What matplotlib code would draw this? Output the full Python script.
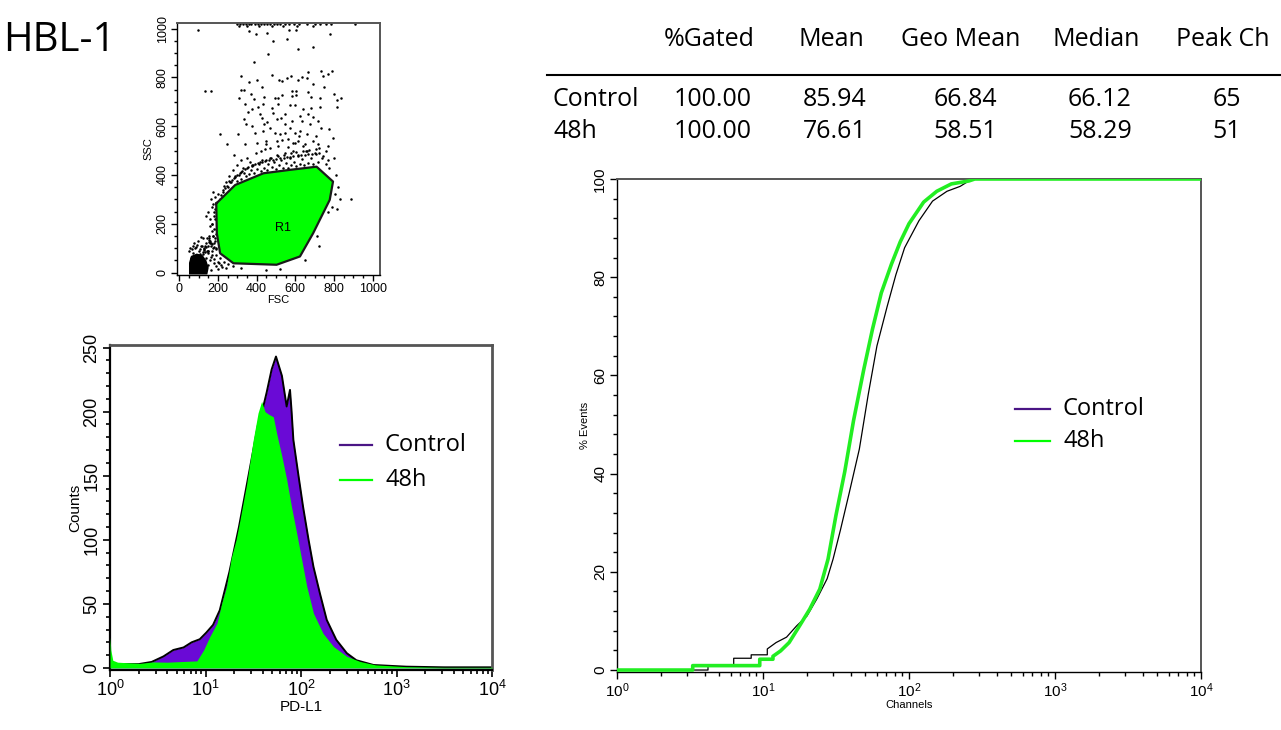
"""HBL-1 PD-L1 flow cytometry panel: FSC/SSC gate, PD-L1 histogram overlay,
cumulative distribution overlay and a stats table."""
import matplotlib
matplotlib.use("Agg")
import matplotlib.pyplot as plt
from matplotlib.lines import Line2D
from matplotlib.ticker import MultipleLocator, LogLocator, NullFormatter

W, H = 1281, 730

# ---- stats table ----
table_cols = ["%Gated", "Mean", "Geo Mean", "Median", "Peak Ch"]
table_rows = ["Control", "48h"]
control_stats = ["100.00", "85.94", "66.84", "66.12", "65"]
h48_stats = ["100.00", "76.61", "58.51", "58.29", "51"]

# ---- FSC / SSC dot plot ----
gate_fsc = [191, 289, 435, 572, 710, 795, 778, 692, 624, 503, 280, 211, 194, 191]
gate_ssc = [283, 359, 407, 421, 434, 373, 298, 161, 66, 32, 38, 79, 161, 283]
debris_fsc = [50, 100, 145, 152, 140, 120, 90, 60, 50]
debris_ssc = [-8, -8, -8, 20, 50, 72, 78, 68, 40]
ev_fsc = [
    96, 361, 397, 452, 567, 601, 778, 486, 555, 615, 689, 457, 388, 318, 362, 400,
    477, 515, 533, 558, 577, 612, 636, 658, 667, 735, 744, 770, 790, 692, 747, 131,
    165, 318, 335, 426, 371, 311, 387, 440, 495, 512, 533, 581, 601, 584, 601, 667,
    680, 730, 801, 838, 818, 813, 340, 431, 375, 405, 477, 512, 572, 598, 641, 680,
    727, 354, 417, 486, 546, 624, 667, 692, 335, 426, 455, 503, 526, 581, 632, 675,
    718, 344, 378, 440, 469, 546, 572, 735, 773, 211, 306, 392, 435, 495, 520, 546,
    598, 624, 658, 709, 795, 246, 340, 400, 446, 503, 564, 589, 615, 649, 718, 768,
    297, 315, 330, 345, 360, 372, 390, 405, 420, 440, 455, 470, 490, 505, 520, 545,
    565, 595, 620, 660, 700, 730, 760, 785, 907, 308, 352, 412, 478, 536, 608, 690,
    225, 235, 250, 240, 262, 275, 255, 290, 300, 310, 320, 335, 345, 330, 360, 370,
    385, 380, 400, 410, 420, 430, 440, 455, 460, 470, 480, 490, 500, 505, 515, 525,
    535, 545, 550, 560, 570, 580, 590, 595, 605, 615, 625, 635, 645, 655, 665, 680,
    690, 700, 715, 725, 740, 760, 775, 350, 365, 395, 420, 445, 470, 300, 280, 320,
    510, 560, 600, 640, 690, 285, 450, 530, 620, 660, 760, 800, 810, 820, 805, 830,
    815, 790, 770, 890, 210, 200, 190, 180, 185, 170, 190, 175, 160, 180, 150, 190,
    170, 210, 230, 250, 280, 320, 450, 520, 650, 720, 710, 140, 120,
    215, 228, 246, 268, 283, 296, 312, 326, 342, 356, 374, 392, 408, 426, 444, 462,
    486, 498, 522, 540, 556, 574, 588, 612, 630, 648, 668, 686, 708, 722, 745, 768,
    232, 258, 288, 318, 348, 378, 416, 448, 476, 508, 542, 576, 604, 638, 672, 705,
    165, 175, 185, 195, 160, 170, 180, 190, 155, 165, 178, 188, 150, 172, 183, 195,
    168, 181, 158, 176, 186, 163, 193, 171, 146, 138, 152, 129, 143, 118, 134, 156,
    60, 70, 80, 90, 100, 110, 120, 130, 140, 150, 160, 170, 180, 190, 200, 150, 165,
    55, 75, 95, 115, 135, 145, 160, 175, 190, 205, 215, 105, 125, 85, 65,
    48, 66, 88, 108, 128, 146, 162, 178, 198, 72, 94, 112, 136, 154, 170, 186, 222, 240,
]
ev_ssc = [
    996, 989, 976, 982, 996, 996, 976, 948, 958, 918, 925, 896, 862, 805, 780, 791,
    811, 791, 784, 798, 805, 791, 801, 798, 821, 825, 805, 814, 825, 771, 762, 743,
    743, 750, 750, 762, 733, 716, 712, 719, 716, 716, 726, 743, 743, 723, 727, 739,
    720, 714, 733, 714, 707, 678, 692, 689, 672, 678, 675, 689, 686, 686, 672, 675,
    678, 657, 648, 655, 648, 641, 648, 637, 628, 634, 617, 630, 634, 621, 621, 607,
    621, 607, 600, 607, 593, 607, 593, 593, 587, 566, 566, 573, 580, 573, 566, 573,
    573, 580, 566, 559, 552, 525, 525, 532, 525, 539, 546, 532, 539, 525, 525, 518,
    1018, 1018, 1018, 1018, 1018, 1018, 1018, 1018, 1018, 1018, 1018, 1018, 1018, 1018, 1018, 1018,
    1018, 1018, 1018, 1018, 1018, 1018, 1018, 1018, 1018, 1010, 1012, 1010, 1012, 1010, 1012, 1010,
    330, 345, 350, 370, 372, 380, 395, 390, 375, 400, 385, 410, 395, 430, 405, 420,
    410, 440, 425, 445, 415, 460, 430, 420, 445, 470, 432, 455, 425, 480, 440, 460,
    430, 490, 450, 430, 470, 440, 500, 455, 435, 480, 445, 465, 440, 500, 450, 470,
    445, 490, 455, 510, 470, 445, 430, 470, 455, 490, 500, 505, 510, 440, 420, 460,
    520, 515, 530, 520, 540, 480, 540, 545, 560, 500, 500, 470, 400, 350, 320, 300,
    260, 270, 250, 300, 300, 320, 280, 250, 220, 200, 180, 150, 130, 120, 110, 100,
    90, 60, 45, 35, 25, 20, 12, 15, 50, 110, 150, 230, 140,
    318, 338, 356, 372, 386, 398, 408, 418, 426, 432, 438, 444, 448, 452, 456, 460,
    462, 466, 468, 470, 472, 474, 476, 478, 480, 482, 484, 486, 488, 490, 476, 462,
    355, 375, 395, 412, 428, 440, 452, 462, 470, 476, 482, 490, 494, 498, 502, 506,
    300, 280, 260, 240, 220, 200, 180, 160, 140, 120, 105, 95, 250, 330, 310, 290,
    270, 230, 190, 150, 130, 110, 210, 170, 90, 120, 150, 100, 140, 110, 85, 125,
    60, 80, 100, 70, 90, 110, 75, 95, 60, 80, 50, 70, 40, 25, 15, 30, 10,
    100, 120, 130, 60, 110, 90, 120, 100, 70, 40, 30, 75, 85, 30, 20,
    90, 95, 105, 98, 92, 88, 62, 55, 45, 110, 115, 145, 105, 135, 118, 140, 22, 18,
]

# ---- PD-L1 histogram (channel, counts) ----
hist_48h_ch = [1.0, 1.02, 1.07, 1.2, 1.58, 2.06, 2.82, 3.98, 5.62, 8.13, 9.55, 11.1,
               13.2, 14.8, 16.6, 18.6, 20.9, 22.9, 26.9, 31.6, 35.5, 38.7, 42.0, 45.7,
               51.3, 55.6, 63.1, 70.8, 79.4, 90.2, 102, 115, 135, 170, 219, 302, 417,
               603, 1259, 3162, 10000]
hist_48h_ct = [24, 14, 6, 4.5, 4, 3.6, 4.7, 4.5, 5, 5.5, 14, 24.5,
               35, 50.5, 63.5, 86, 100, 115, 143, 178, 199, 208, 200, 198,
               196, 183, 165, 147, 126, 105, 84, 63.5, 42.7, 27, 16.7, 9, 5,
               2.4, 1, 0.5, 0.5]
hist_ctrl_ch = [1.0, 2.0, 2.73, 3.63, 4.6, 5.89, 7.16, 8.71, 10.2, 12.0, 14.1, 17.8,
                22.4, 28.2, 35.5, 40.3, 43.7, 49.3, 54.7, 63.1, 70.8, 76.7, 79.4, 83.2,
                93.3, 105, 120, 135, 158, 186, 234, 302, 380, 575, 1259, 3162, 10000]
hist_ctrl_ct = [3, 3, 4.7, 9, 14, 16, 20, 22.4, 27.6, 33.6, 45, 75,
                110, 150, 190, 204, 215, 233, 243, 228, 204, 217, 202, 178,
                152, 126, 100, 79, 58, 37.5, 22, 11.5, 6, 2.3, 1, 0.5, 0.5]

# ---- cumulative % events (channel, %) ----
cum_48h_ch = [1, 3.3, 3.3, 9.5, 9.5, 11.7, 11.7, 13.2, 15.1, 17.8, 20.9, 24.5, 27.9,
              31.6, 36.3, 41.7, 49.0, 56.2, 64.6, 75.9, 87.1, 100, 126, 155, 195,
              257, 282, 10000]
cum_48h_pct = [0, 0, 0.9, 0.9, 2.2, 2.2, 2.8, 3.9, 5.6, 9, 12.4, 16.5, 22.6,
               31.5, 40.4, 50.8, 61.2, 69.4, 76.8, 82.7, 87.2, 90.9, 95.3, 97.5, 99,
               99.6, 100, 100]
cum_ctrl_ch = [1, 4.2, 4.2, 6.3, 6.3, 8.3, 8.3, 10.7, 10.7, 12.3, 14.5, 17, 20, 23.4,
               27.5, 30.2, 33.9, 38.9, 45.7, 52.5, 60.3, 70.8, 81.3, 93.3, 117, 145,
               182, 224, 257, 282, 10000]
cum_ctrl_pct = [0, 0, 1.0, 1.0, 2.4, 2.4, 3.1, 3.1, 4.3, 5.6, 6.7, 9, 11, 14.5,
                18.6, 22.6, 28.5, 36, 45, 56, 66, 74, 80.5, 86, 91.5, 95.5,
                97.5, 98.5, 99.6, 100, 100]

GREEN = "#00ff00"
PURPLE = "#6a0ad6"
LEGEND_PURPLE = "#4a1585"
TEXT_FONT = ["Open Sans", "DejaVu Sans"]
AXIS_FONT = ["Liberation Sans", "DejaVu Sans"]

plt.rcParams["font.family"] = AXIS_FONT


def px_axes(fig, left, top, right, bottom):
    return fig.add_axes([left / W, 1 - bottom / H, (right - left) / W, (bottom - top) / H])


def fig_xy(x, y):
    return x / W, 1 - y / H


def style_box(ax, lw=1.3):
    for side in ["left", "bottom"]:
        ax.spines[side].set_linewidth(lw)
        ax.spines[side].set_color("black")
    for side in ["top", "right"]:
        ax.spines[side].set_linewidth(lw + 0.4)
        ax.spines[side].set_color("#555555")


def vertical_yticklabels(ax):
    for lab in ax.get_yticklabels():
        lab.set_rotation(90)
        lab.set_va("center")


fig = plt.figure(figsize=(W / 100, H / 100), dpi=100)

fig.text(*fig_xy(3, 41), "HBL-1", fontsize=29, family=TEXT_FONT, va="center", ha="left")

# ---- dot plot ----
ax1 = px_axes(fig, 177, 23, 380, 275)
ax1.plot(ev_fsc, ev_ssc, "o", color="black", markersize=1.8, markeredgewidth=0, zorder=1)
ax1.fill(debris_fsc, debris_ssc, color="black", lw=0, zorder=1)
ax1.fill(gate_fsc, gate_ssc, color=GREEN, lw=0, zorder=2)
ax1.plot(gate_fsc, gate_ssc, color="#1a1a1a", lw=1.6, zorder=3)
ax1.text(538, 182, "R1", fontsize=9, ha="center", va="center", zorder=4)
ax1.set_xlim(-12, 1038)
ax1.set_ylim(-10, 1023)
ax1.set_xticks(range(0, 1001, 200))
ax1.set_yticks(range(0, 1001, 200))
ax1.xaxis.set_minor_locator(MultipleLocator(50))
ax1.yaxis.set_minor_locator(MultipleLocator(50))
ax1.tick_params(which="major", length=4, width=1, labelsize=9, pad=2)
ax1.tick_params(which="minor", length=2.5, width=1)
vertical_yticklabels(ax1)
ax1.set_xlabel("FSC", fontsize=8, labelpad=0)
ax1.set_ylabel("SSC", fontsize=8, labelpad=2)
style_box(ax1, lw=1.0)

# ---- PD-L1 histogram ----
ax2 = px_axes(fig, 110, 345, 492, 670)
ax2.fill_between(hist_ctrl_ch, 0, hist_ctrl_ct, color=PURPLE, lw=0, zorder=1)
ax2.plot(hist_ctrl_ch, hist_ctrl_ct, color="black", lw=1.4, zorder=2)
ax2.fill_between(hist_48h_ch, 0, hist_48h_ct, color=GREEN, lw=0, zorder=3)
ax2.set_xscale("log")
ax2.set_xlim(1, 1e4)
ax2.set_ylim(-1.6, 252)
ax2.set_yticks(range(0, 251, 50))
ax2.yaxis.set_minor_locator(MultipleLocator(10))
ax2.xaxis.set_minor_locator(LogLocator(base=10, subs=range(2, 10)))
ax2.xaxis.set_minor_formatter(NullFormatter())
ax2.tick_params(which="major", length=5, width=1.2, labelsize=13, pad=2)
ax2.tick_params(which="minor", length=3, width=1.2)
vertical_yticklabels(ax2)
ax2.set_xlabel("PD-L1", fontsize=11, labelpad=0)
ax2.set_ylabel("Counts", fontsize=11, labelpad=1)
style_box(ax2, lw=1.6)

# ---- cumulative plot ----
ax3 = px_axes(fig, 617, 179, 1201, 672)
ax3.plot(cum_ctrl_ch, cum_ctrl_pct, color="black", lw=0.9, zorder=2)
ax3.plot(cum_48h_ch, cum_48h_pct, color="#22ee22", lw=2.6, zorder=3)
ax3.set_xscale("log")
ax3.set_xlim(1, 1e4)
ax3.set_ylim(-0.4, 100)
ax3.set_yticks(range(0, 101, 20))
ax3.yaxis.set_minor_locator(MultipleLocator(4))
ax3.xaxis.set_minor_locator(LogLocator(base=10, subs=range(2, 10)))
ax3.xaxis.set_minor_formatter(NullFormatter())
ax3.tick_params(which="major", length=5, width=1, labelsize=11, pad=2)
ax3.tick_params(which="minor", length=3, width=1)
vertical_yticklabels(ax3)
ax3.set_xlabel("Channels", fontsize=8, labelpad=0)
ax3.set_ylabel("% Events", fontsize=8, labelpad=2)
style_box(ax3, lw=1.0)

# ---- legends (drawn in figure pixels) ----
for (x0, x1, xt, y0, dy) in [(340, 372, 385, 445, 35), (1015, 1050, 1063, 409, 32)]:
    for i, (lab, col) in enumerate(zip(table_rows, [LEGEND_PURPLE, GREEN])):
        yy = y0 + i * dy
        fig.add_artist(Line2D([x0 / W, x1 / W], [1 - yy / H, 1 - yy / H], color=col, lw=1.6))
        fig.text(*fig_xy(xt, yy), lab, fontsize=17, family=TEXT_FONT, va="center", ha="left")

# ---- stats table ----
col_x = [709, 831, 961, 1096, 1223]
for cx, name in zip(col_x, table_cols):
    fig.text(*fig_xy(cx, 40), name, fontsize=18, family=TEXT_FONT, ha="center", va="center")
fig.add_artist(Line2D([547 / W, 1.0], [1 - 75 / H, 1 - 75 / H], color="black", lw=1.5))
for row_y, row_name, vals in [(100, table_rows[0], control_stats), (131, table_rows[1], h48_stats)]:
    fig.text(*fig_xy(553, row_y), row_name, fontsize=18, family=TEXT_FONT, ha="left", va="center")
    for cx, v in zip(col_x, vals):
        fig.text(*fig_xy(cx + 4, row_y), v, fontsize=18, family=TEXT_FONT, ha="center", va="center")

fig.savefig("out.png", dpi=100)
